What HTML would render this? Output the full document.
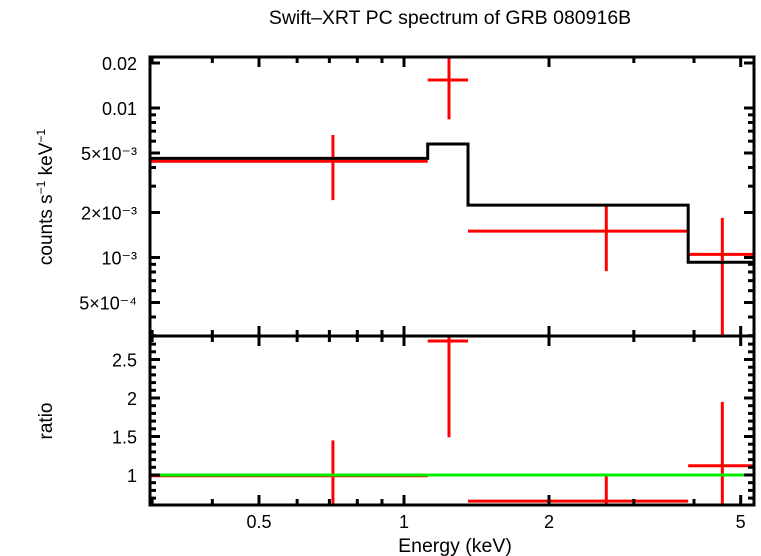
<!DOCTYPE html>
<html><head><meta charset="utf-8"><style>
body{margin:0;background:#fff}
svg{display:block;font-family:"Liberation Sans",sans-serif}
</style></head><body>
<svg id="c" width="761" height="556">
<text x="450" y="24" font-size="19.5" text-anchor="middle">Swift–XRT PC spectrum of GRB 080916B</text>
<text x="455" y="552" font-size="19.5" text-anchor="middle">Energy (keV)</text>
<text transform="translate(52,197) rotate(-90)" font-size="19" text-anchor="middle">counts s<tspan font-size="12" dy="-7">−1</tspan><tspan dy="7"> keV</tspan><tspan font-size="12" dy="-7">−1</tspan></text>
<text transform="translate(52,421) rotate(-90)" font-size="19" text-anchor="middle">ratio</text>
</svg>
<script>
// data
const binLo=[0.297,1.12,1.358,3.89];
const binHi=[1.12,1.358,3.89,5.4];
const binE=[0.712,1.24,2.63,4.58];
const rate=[4.4e-3,0.0154,1.5e-3,1.05e-3];
const rateHi=[6.6e-3,0.025,2.24e-3,1.84e-3];
const rateLo=[2.42e-3,8.4e-3,8.1e-4,2e-4];
const model=[4.6e-3,5.74e-3,2.24e-3,9.3e-4];
const ratio=[0.99,2.74,0.66,1.12];
const ratioHi=[1.45,2.9,1.0,1.95];
const ratioLo=[0.5,1.49,0.5,0.5];
const xTicks=[0.5,1,2,5];
const xMinor=[0.3,0.4,0.6,0.7,0.8,0.9,3,4];
const yTicksTop=[0.02,0.01,5e-3,2e-3,1e-3,5e-4];
const yLabelsTop=["0.02","0.01","5×10⁻³","2×10⁻³","10⁻³","5×10⁻⁴"];
const yMinorTop=[3e-4,4e-4,6e-4,7e-4,8e-4,9e-4,3e-3,4e-3,6e-3,7e-3,8e-3,9e-3];
const yTicksR=[1,1.5,2,2.5];
const yLabelsR=["1","1.5","2","2.5"];

const L=150,R=754,T1=57,B1=336,T2=336,B2=505;
const X=e=>404+481.7*Math.log10(e);
const Y1=v=>108-149.5*(Math.log10(v)+2);
const Y2=v=>475-77*(v-1);
const svg=document.getElementById('c');
const NS='http://www.w3.org/2000/svg';
function el(t,a,p){const e=document.createElementNS(NS,t);for(const k in a)e.setAttribute(k,a[k]);(p||svg).appendChild(e);return e;}
const clip1=el('clipPath',{id:'k1'});el('rect',{x:L,y:T1,width:R-L,height:B1-T1},clip1);
const clip2=el('clipPath',{id:'k2'});el('rect',{x:L,y:T2,width:R-L,height:B2-T2},clip2);
const g1=el('g',{'clip-path':'url(#k1)'});


const g2=el('g',{'clip-path':'url(#k2)'});


binLo.forEach((lo,i)=>{
  const a=el('g',{stroke:'#f00','stroke-width':3},g1);
  
  
  el('line',{x1:X(lo),x2:X(binHi[i]),y1:Y1(rate[i]),y2:Y1(rate[i])},a);
  el('line',{x1:X(binE[i]),x2:X(binE[i]),y1:Y1(rateHi[i]),y2:Y1(rateLo[i])},a);
  const b=el('g',{stroke:'#f00','stroke-width':3},g2);
  
  
  el('line',{x1:X(lo),x2:X(binHi[i]),y1:Y2(ratio[i]),y2:Y2(ratio[i])},b);
  el('line',{x1:X(binE[i]),x2:X(binE[i]),y1:Y2(ratioHi[i]),y2:Y2(ratioLo[i])},b);
});
// model step
let d='';
binLo.forEach((lo,i)=>{d+=(i?'L':'M')+X(lo)+' '+Y1(model[i])+'L'+X(binHi[i])+' '+Y1(model[i]);});
const mp=el('path',{d:d,fill:'none',stroke:'#000','stroke-width':3},g1);


const gl=el('line',{x1:L,x2:R,y1:Y2(1),y2:Y2(1),stroke:'#00ee00','stroke-width':3},g2);


// frames
const ax=el('g',{stroke:'#000','stroke-width':3,fill:'none'});


el('rect',{x:L,y:T1,width:R-L,height:B2-T1},ax);
el('line',{x1:L,x2:R,y1:B1,y2:B1},ax);
function xt(e,len){[T1,B1,B2].forEach(y=>{
  if(y!==B2) el('line',{x1:X(e),x2:X(e),y1:y,y2:y+len},ax);
  if(y!==T1) el('line',{x1:X(e),x2:X(e),y1:y,y2:y-len},ax);});}
xTicks.forEach(e=>xt(e,10));xMinor.forEach(e=>xt(e,6));
xTicks.forEach(e=>{const t=el('text',{x:X(e),y:528,'font-size':18,'text-anchor':'middle'});t.textContent=e;

});
function yt(y,len){el('line',{x1:L,x2:L+len,y1:y,y2:y},ax);el('line',{x1:R,x2:R-len,y1:y,y2:y},ax);}
yTicksTop.forEach((v,i)=>{yt(Y1(v),10);const t=el('text',{x:137,y:Y1(v)+7,'font-size':18,'text-anchor':'end'});t.textContent=yLabelsTop[i];

});
yMinorTop.forEach(v=>yt(Y1(v),6));
yTicksR.forEach((v,i)=>{yt(Y2(v),10);const t=el('text',{x:137,y:Y2(v)+7,'font-size':18,'text-anchor':'end'});t.textContent=yLabelsR[i];

});
for(let v=0.7;v<2.8;v+=0.1){if(Math.abs(v*2-Math.round(v*2))>0.01)yt(Y2(v),6);}
</script>
</body></html>
